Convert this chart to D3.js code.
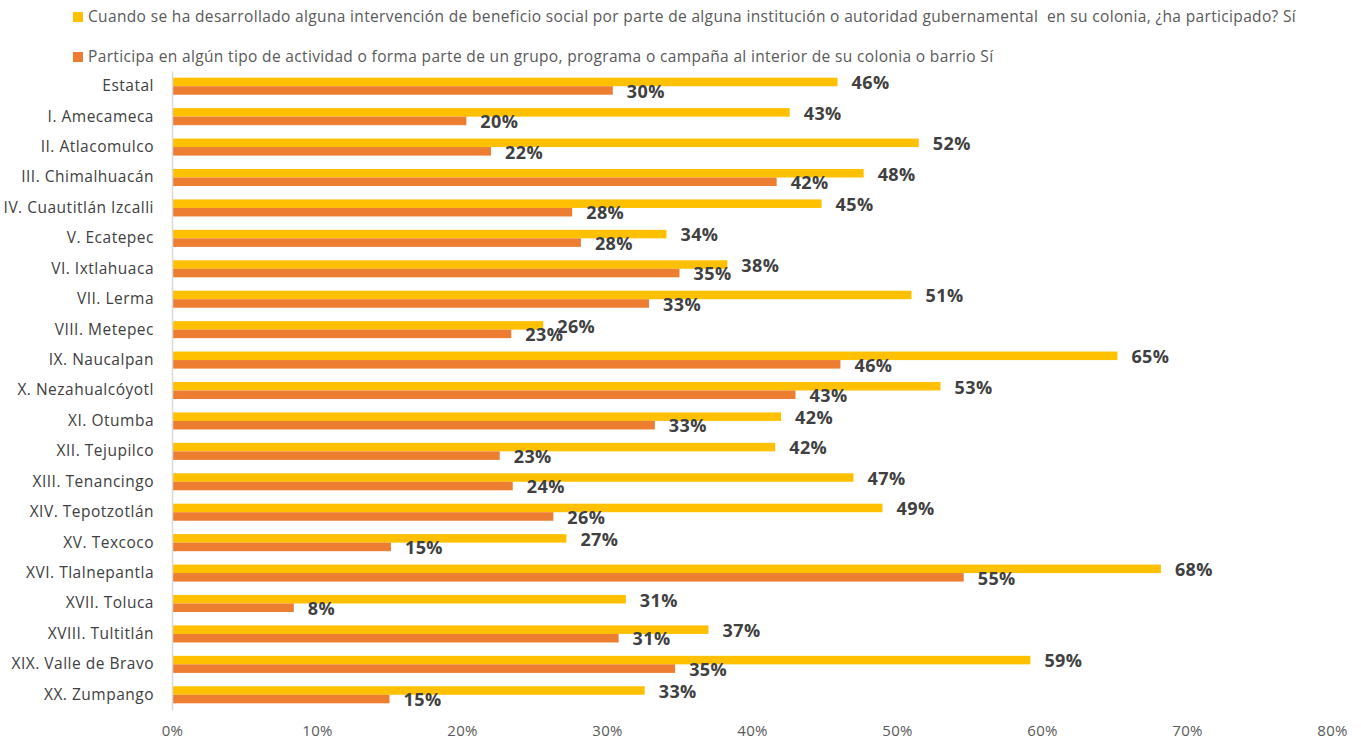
<!DOCTYPE html>
<html>
<head>
<meta charset="utf-8">
<script src="https://cdn.jsdelivr.net/npm/d3@7"></script>
<style>
  body { margin: 0; background: #fff; }
  text { font-family: 'Open Sans', Lato, sans-serif; }
</style>
</head>
<body>
<div id="chart"></div>
<script>
// Categories (regions) and the two series, in percent.
var categories = ['Estatal', 'I. Amecameca', 'II. Atlacomulco', 'III. Chimalhuacán', 'IV. Cuautitlán Izcalli',
    'V. Ecatepec', 'VI. Ixtlahuaca', 'VII. Lerma', 'VIII. Metepec', 'IX. Naucalpan', 'X. Nezahualcóyotl',
    'XI. Otumba', 'XII. Tejupilco', 'XIII. Tenancingo', 'XIV. Tepotzotlán', 'XV. Texcoco', 'XVI. Tlalnepantla',
    'XVII. Toluca', 'XVIII. Tultitlán', 'XIX. Valle de Bravo', 'XX. Zumpango'];

var seriesNames = [
    'Cuando se ha desarrollado alguna intervención de beneficio social por parte de alguna institución o autoridad gubernamental  en su colonia, ¿ha participado? Sí',
    'Participa en algún tipo de actividad o forma parte de un grupo, programa o campaña al interior de su colonia o barrio Sí'
];

var intervencion = [45.9, 42.6, 51.5, 47.7, 44.8, 34.1, 38.3, 51.0, 25.6, 65.2, 53.0,
    42.0, 41.6, 47.0, 49.0, 27.2, 68.2, 31.3, 37.0, 59.2, 32.6];
var participa = [30.4, 20.3, 22.0, 41.7, 27.6, 28.2, 35.0, 32.9, 23.4, 46.1, 43.0,
    33.3, 22.6, 23.5, 26.3, 15.1, 54.6, 8.4, 30.8, 34.7, 15.0];

var xTicks = [0, 10, 20, 30, 40, 50, 60, 70, 80];
var colors = ['#ffc000', '#ed7d31'];

var width = 1361, height = 740;
var margin = {left: 172, right: 29, top: 71, bottom: 30};

var svg = d3.select('#chart')
    .append('svg')
        .attr('width', width)
        .attr('height', height);

var x = d3.scaleLinear()
    .domain([0, 80])
    .range([margin.left, width - margin.right]);

var y = d3.scaleBand()
    .domain(categories)
    .range([margin.top, height - margin.bottom])
    .paddingInner(0.44)
    .paddingOuter(0.22);

var ySub = d3.scaleBand()
    .domain([0, 1])
    .range([0, y.bandwidth()]);

// Build rows from the arrays.
var rows = categories.map(function(c, i){
    return {cat: c, values: [intervencion[i], participa[i]]};
});

// Legend.
var legend = svg.append('g');
seriesNames.forEach(function(name, i){
    var ly = 17 + i * 40;
    legend.append('rect')
        .attr('x', 73).attr('y', ly - 5)
        .attr('width', 10).attr('height', 10)
        .attr('fill', colors[i]);
    legend.append('text')
        .attr('x', 88).attr('y', ly + 5)
        .attr('font-size', '15.5px')
        .attr('letter-spacing', '0.35px')
        .attr('fill', '#595959')
        .style('white-space', 'pre')
        .text(name);
});

// Bars.
var groups = svg.selectAll('g.row')
    .data(rows)
    .enter().append('g')
        .attr('class', 'row')
        .attr('transform', function(d){ return 'translate(0,' + y(d.cat) + ')'; });

groups.selectAll('rect')
    .data(function(d){ return d.values; })
    .enter().append('rect')
        .attr('x', x(0))
        .attr('y', function(d, i){ return ySub(i); })
        .attr('width', function(d){ return x(d) - x(0); })
        .attr('height', ySub.bandwidth())
        .attr('fill', function(d, i){ return colors[i]; });

groups.selectAll('text.val')
    .data(function(d){ return d.values; })
    .enter().append('text')
        .attr('class', 'val')
        .attr('x', function(d){ return x(d) + 14; })
        .attr('y', function(d, i){ return ySub(i) + ySub.bandwidth() / 2 + 1; })
        .attr('dy', '0.35em')
        .attr('font-size', '18px')
        .attr('letter-spacing', '0.4px')
        .attr('font-weight', 'bold')
        .attr('fill', '#404040')
        .text(function(d){ return d3.format('.0f')(d) + '%'; });

// Category axis.
var yAxis = svg.append('g')
    .attr('transform', 'translate(' + x(0) + ',0)')
    .call(d3.axisLeft(y).tickSize(0).tickPadding(18));
yAxis.select('.domain')
    .attr('stroke', '#d9d9d9')
    .attr('stroke-width', 1.5);
yAxis.selectAll('text')
    .attr('font-size', '15.5px')
    .attr('letter-spacing', '0.5px')
    .attr('font-family', "'Open Sans', sans-serif")
    .attr('fill', '#404040');

// Value axis (labels only).
var xAxis = svg.append('g')
    .attr('transform', 'translate(0,' + (height - 18) + ')')
    .call(d3.axisBottom(x).tickValues(xTicks).tickSize(0).tickPadding(3)
        .tickFormat(function(d){ return d + '%'; }));
xAxis.select('.domain').remove();
xAxis.selectAll('text')
    .attr('font-size', '15px')
    .attr('letter-spacing', '0.3px')
    .attr('font-family', "'Open Sans', sans-serif")
    .attr('fill', '#595959');
</script>
</body>
</html>
